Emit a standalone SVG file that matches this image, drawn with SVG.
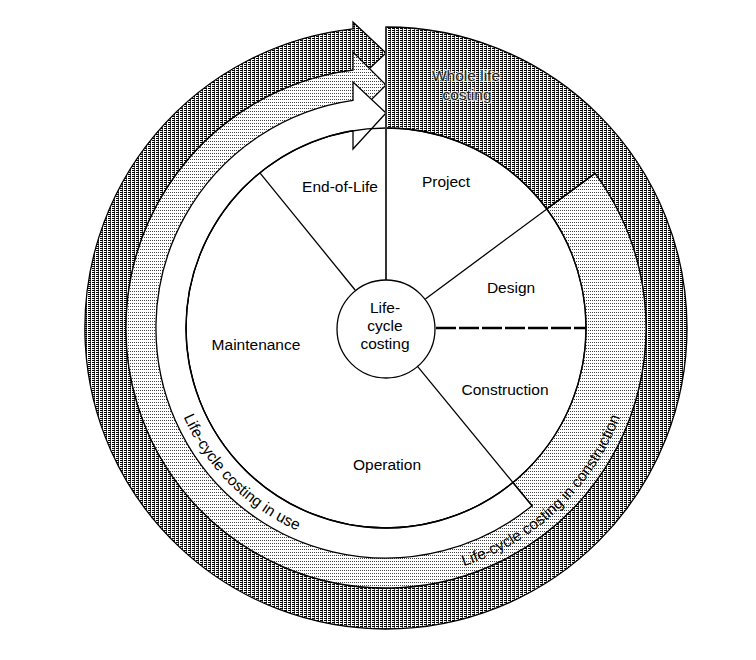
<svg xmlns="http://www.w3.org/2000/svg" width="756" height="660" viewBox="0 0 756 660">
<defs>
<pattern id="dark" width="4" height="2" patternUnits="userSpaceOnUse"><rect width="4" height="2" fill="#fff"/><rect x="0" y="0" width="3" height="1" fill="#000"/><rect x="2" y="1" width="1" height="1" fill="#555"/></pattern>
<pattern id="light" width="2" height="3" patternUnits="userSpaceOnUse"><rect width="2" height="3" fill="#fff"/><rect x="0" y="0" width="1" height="1" fill="#444"/></pattern>
<path id="pUse" d="M 165.8 347.3 A 221 221 0 0 0 366.7 548.2"/>
<path id="pCon" d="M 386 578.5 A 250.5 250.5 0 0 0 636.5 328"/>
</defs>
<style>
.ln{stroke:#000;stroke-width:1.3;fill:none}
.band{stroke:#000;stroke-width:1.3;stroke-linejoin:miter}
.t{font-family:"Liberation Sans",Arial,sans-serif;font-size:15.5px;fill:#000}
.c{text-anchor:middle}
.wl{fill:#222;stroke:#fff;stroke-opacity:0.75;stroke-width:2;paint-order:stroke}
</style>
<rect width="756" height="660" fill="#fff"/>
<g id="whole-life-costing">
<path class="band" fill="url(#dark)" d="M 386 27 A 301 301 0 0 1 386 629 A 301 301 0 0 1 353 28.8 L 353 22 L 386 53 L 353 84 L 353 70.1 A 260 260 0 1 0 595.0 173.4 L 546.8 209.0 A 200 200 0 0 0 386 128 Z"/>
<text class="t c wl" x="466" y="81">Whole life</text>
<text class="t c wl" x="467" y="100">costing</text>
</g>
<g id="lcc-construction">
<path class="band" fill="url(#light)" d="M 595.0 173.4 A 260 260 0 1 1 353 70.1 L 353 52 L 386 85 L 353 118 L 353 130.7 A 200 200 0 1 0 546.8 209.0 Z"/>
<text class="t"><textPath href="#pCon" startOffset="48.5%" text-anchor="middle">Life-cycle costing in construction</textPath></text>
</g>
<g id="lcc-use">
<path class="band" fill="#fff" d="M 532.0 505.7 A 230 230 0 1 1 353 100.4 L 353 82 L 386 113 L 353 149 L 353 130.7 A 200 200 0 1 0 512.9 482.5 Z"/>
<text class="t"><textPath href="#pUse" startOffset="50%" text-anchor="middle">Life-cycle costing in use</textPath></text>
</g>
<g id="phases">
<circle class="ln" cx="386" cy="328" r="200" fill="#fff"/>
<text class="t c" x="446" y="187">Project</text>
<text class="t c" x="511" y="293">Design</text>
<text class="t c" x="505" y="395">Construction</text>
<text class="t c" x="387" y="470">Operation</text>
<text class="t c" x="256" y="350">Maintenance</text>
<text class="t c" x="340" y="192">End-of-Life</text>
</g>
<g id="connectors">
<line x1="386" y1="280" x2="386" y2="27" stroke="#333" stroke-width="2"/>
<line class="ln" x1="425.4" y1="298.9" x2="595.0" y2="173.4"/>
<line x1="436" y1="328" x2="586" y2="328" stroke="#000" stroke-width="2.5" stroke-dasharray="20 3"/>
<line class="ln" x1="417.1" y1="365.9" x2="532.6" y2="506.5"/>
<line class="ln" x1="355.1" y1="290.0" x2="259.9" y2="172.8"/>
</g>
<g id="life-cycle-costing">
<circle class="ln" cx="386" cy="329" r="49" fill="#fff"/>
<text class="t c" x="385" y="313">Life-</text>
<text class="t c" x="385" y="331">cycle</text>
<text class="t c" x="385" y="349">costing</text>
</g>
</svg>
